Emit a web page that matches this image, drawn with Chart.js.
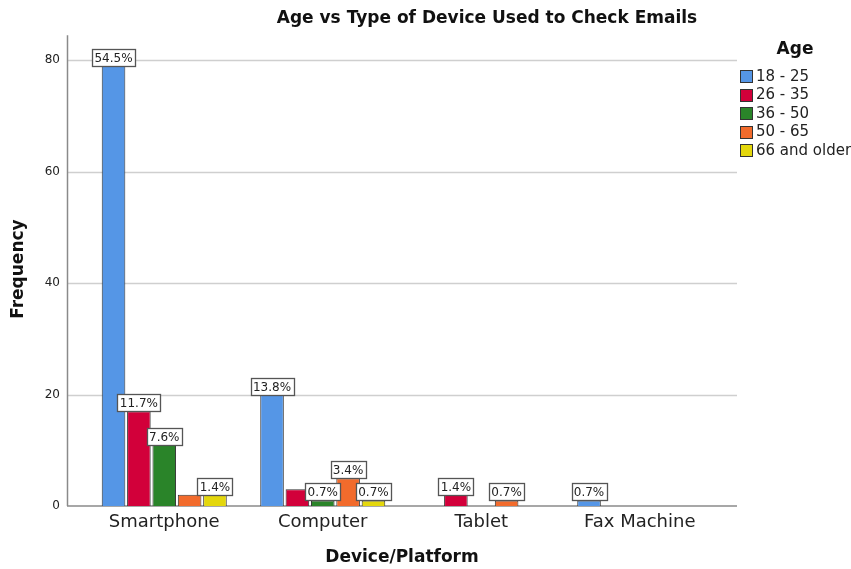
<!DOCTYPE html>
<html><head><meta charset="utf-8">
<script src="https://cdn.jsdelivr.net/npm/chart.js@4"></script>
<style>html,body{margin:0;padding:0;background:#fff}#wrap{width:851px;height:569px;position:relative}</style>
</head><body><div id="wrap"><canvas id="c" width="851" height="569"></canvas></div>
<script>
const chartTitle = 'Age vs Type of Device Used to Check Emails';
const categories = ['Smartphone', 'Computer', 'Tablet', 'Fax Machine'];
const ageGroups = ['18 - 25', '26 - 35', '36 - 50', '50 - 65', '66 and older'];
const age18_25 = [79, 20, 0, 1];
const age26_35 = [17, 3, 2, 0];
const age36_50 = [11, 1, 0, 0];
const age50_65 = [2, 5, 1, 0];
const age66plus = [2, 1, 0, 0];
const pct18_25 = ['54.5%', '13.8%', null, '0.7%'];
const pct26_35 = ['11.7%', null, '1.4%', null];
const pct36_50 = ['7.6%', '0.7%', null, null];
const pct50_65 = [null, '3.4%', '0.7%', null];
const pct66plus = ['1.4%', '0.7%', null, null];
const yTicks = [0, 20, 40, 60, 80];

const colors = ['#5596E6', '#D2003A', '#2A8429', '#F26B2C', '#E4D70C'];
const seriesValues = [age18_25, age26_35, age36_50, age50_65, age66plus];
const seriesPct = [pct18_25, pct26_35, pct36_50, pct50_65, pct66plus];
const FONT = '"DejaVu Sans", sans-serif';
const AXL = 67, AXR = 737;

const decor = {
  id: 'decor',
  beforeDatasetsDraw(chart) {
    const ctx = chart.ctx, y = chart.scales.y;
    ctx.save();
    ctx.lineWidth = 1.5;
    ctx.strokeStyle = '#cfcfcf';
    yTicks.forEach(v => {
      if (v === 0) return;
      const py = Math.round(y.getPixelForValue(v)) + 0.5;
      ctx.beginPath(); ctx.moveTo(AXL, py); ctx.lineTo(AXR, py); ctx.stroke();
    });
    ctx.strokeStyle = '#8a8a8a';
    const top = y.getPixelForValue(y.max) + 3;
    const bot = y.getPixelForValue(0);
    ctx.beginPath(); ctx.moveTo(AXL + 0.5, top); ctx.lineTo(AXL + 0.5, bot); ctx.stroke();
    ctx.beginPath(); ctx.moveTo(AXL, bot); ctx.lineTo(AXR, bot); ctx.stroke();
    ctx.restore();
  },
  afterDatasetsDraw(chart) {
    const ctx = chart.ctx;
    ctx.save();
    ctx.font = '12px ' + FONT;
    ctx.textAlign = 'center';
    ctx.textBaseline = 'middle';
    seriesPct.forEach((arr, i) => {
      const meta = chart.getDatasetMeta(i);
      arr.forEach((lab, j) => {
        if (!lab) return;
        const bar = meta.data[j];
        const w = Math.round(ctx.measureText(lab).width) + 5;
        const h = 17;
        const x0 = Math.round(bar.x - w / 2) + 0.5;
        const y0 = Math.round(bar.y - h) + 0.5;
        ctx.fillStyle = '#fff';
        ctx.fillRect(x0, y0, w, h);
        ctx.strokeStyle = '#555';
        ctx.lineWidth = 1.3;
        ctx.strokeRect(x0, y0, w, h);
        ctx.fillStyle = '#222';
        ctx.fillText(lab, bar.x, y0 + h / 2 + 0.5);
      });
    });
    // title
    ctx.font = 'bold 17px ' + FONT;
    ctx.fillStyle = '#111';
    ctx.fillText(chartTitle, 487, 19);
    // legend
    ctx.font = 'bold 17px ' + FONT;
    ctx.fillText('Age', 795, 50);
    ctx.font = '15px ' + FONT;
    ctx.textAlign = 'left';
    chart.data.datasets.forEach((ds, i) => {
      const cy = 76 + i * 18.5;
      ctx.fillStyle = ds.backgroundColor;
      ctx.fillRect(740.5, Math.round(cy - 6) + 0.5, 12, 12);
      ctx.strokeStyle = '#333';
      ctx.lineWidth = 1;
      ctx.strokeRect(740.5, Math.round(cy - 6) + 0.5, 12, 12);
      ctx.fillStyle = '#222';
      ctx.fillText(ds.label, 756, cy + 1);
    });
    ctx.restore();
  }
};

new Chart(document.getElementById('c'), {
  type: 'bar',
  data: {
    labels: categories,
    datasets: ageGroups.map((g, i) => ({
      label: g,
      data: seriesValues[i],
      backgroundColor: colors[i],
      borderColor: '#333',
      borderWidth: c => (c.raw ? 1 : 0),
      borderSkipped: 'bottom',
      categoryPercentage: 0.8,
      barPercentage: 0.93
    }))
  },
  options: {
    responsive: false,
    animation: false,
    layout: { padding: { top: 30, right: 132, left: 0, bottom: 0 } },
    plugins: { legend: { display: false }, title: { display: false }, tooltip: { enabled: false } },
    scales: {
      x: {
        grid: { display: false, drawTicks: false },
        border: { display: false },
        ticks: { color: '#222', font: { family: FONT, size: 18 }, padding: 6 },
        title: { display: true, text: 'Device/Platform', color: '#111', font: { family: FONT, size: 17, weight: 'bold' }, padding: { top: 0, bottom: 1 } },
        afterFit: s => { s.height = 63; }
      },
      y: {
        min: 0, max: 85,
        grid: { display: false, drawTicks: false },
        border: { display: false },
        afterBuildTicks: s => { s.ticks = yTicks.map(v => ({ value: v })); },
        ticks: { color: '#222', font: { family: FONT, size: 12 }, padding: 25 },
        title: { display: true, text: 'Frequency', color: '#111', font: { family: FONT, size: 17, weight: 'bold' }, padding: { top: 8, bottom: 0 } },
        afterFit: s => { s.width = 85; }
      }
    }
  },
  plugins: [decor]
});
</script></body></html>
